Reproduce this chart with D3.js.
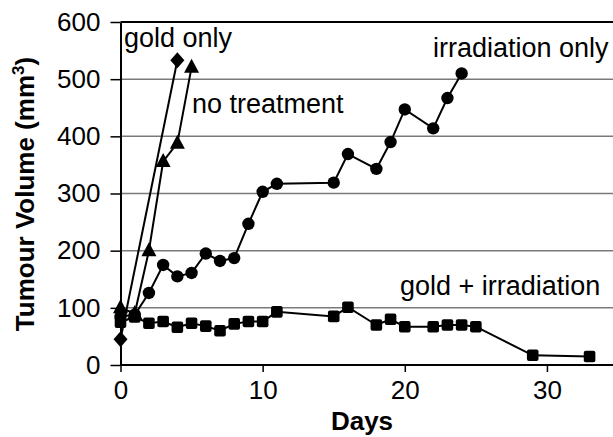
<!DOCTYPE html>
<html><head><meta charset="utf-8">
<script src="https://cdn.jsdelivr.net/npm/d3@7"></script>
<style>
body{margin:0;background:#fff;}
svg{display:block;font-family:"Liberation Sans",Arial,sans-serif;}
</style></head>
<body>
<svg id="chart" width="613" height="437"></svg>
<script>
// Data (days, tumour volume mm^3)
const goldOnlyDays = [0, 4];
const goldOnlyVol = [45, 533];
const noTreatDays = [0, 1, 2, 3, 4, 5];
const noTreatVol = [100, 90, 200, 356, 388, 521];
const irrDays = [0, 1, 2, 3, 4, 5, 6, 7, 8, 9, 10, 11, 15, 16, 18, 19, 20, 22, 23, 24];
const irrVol = [85, 88, 126, 175, 155, 161, 195, 182, 187, 247, 303, 317, 319, 369, 343, 390, 447, 414, 467, 510];
const goldIrrDays = [0, 1, 2, 3, 4, 5, 6, 7, 8, 9, 10, 11, 15, 16, 18, 19, 20, 22, 23, 24, 25, 29, 33];
const goldIrrVol = [75, 84, 73, 76, 66, 73, 68, 60, 72, 76, 76, 93, 85, 101, 70, 80, 67, 67, 70, 70, 67, 17, 15];
const xTicks = [0, 10, 20, 30];
const yTicks = [0, 100, 200, 300, 400, 500, 600];
const labels = ["gold only", "no treatment", "irradiation only", "gold + irradiation"];

const svg = d3.select("#chart");
const x = d3.scaleLinear().domain([0, 35]).range([120.5, 618]);
const y = d3.scaleLinear().domain([0, 600]).range([365, 22]);

// gridlines
svg.append("g").selectAll("line").data(yTicks.filter(v => v > 0 && v < 600)).join("line")
  .attr("x1", x(0)).attr("x2", 613).attr("y1", d => y(d)).attr("y2", d => y(d))
  .attr("stroke", "#7a7a7a").attr("stroke-width", 1.5);
// top border
svg.append("line").attr("x1", x(0)).attr("x2", 613).attr("y1", y(600)).attr("y2", y(600))
  .attr("stroke", "#000").attr("stroke-width", 2);

// axes
const yAxis = svg.append("g").attr("transform", `translate(${x(0)},0)`)
  .call(d3.axisLeft(y).tickValues(yTicks).tickSize(10).tickPadding(10).tickSizeOuter(0));
const xAxis = svg.append("g").attr("transform", `translate(0,${y(0)})`)
  .call(d3.axisBottom(x).tickValues(xTicks).tickSize(7).tickPadding(9).tickSizeOuter(0));
[yAxis, xAxis].forEach(a => {
  a.selectAll("path").attr("stroke", "#000").attr("stroke-width", 2);
  a.selectAll("line").attr("stroke", "#000").attr("stroke-width", 1.5);
  a.selectAll("text").attr("font-size", 26).attr("fill", "#000")
    .attr("font-family", "'Liberation Sans', Arial, sans-serif");
});
xAxis.select(".domain").attr("d", `M${x(0)},0H620`);

// axis titles
svg.append("text").attr("x", 362).attr("y", 430).attr("text-anchor", "middle")
  .attr("font-size", 26).attr("font-weight", "bold").text("Days");
const yt = svg.append("text").attr("transform", "translate(34,194) rotate(-90)")
  .attr("text-anchor", "middle").attr("font-size", 26).attr("font-weight", "bold");
yt.append("tspan").text("Tumour Volume (mm");
yt.append("tspan").attr("font-size", 17).attr("dy", -10).text("3");
yt.append("tspan").attr("dy", 10).text(")");

// series
const line = d3.line().x(d => x(d[0])).y(d => y(d[1]));
const series = [
  {days: goldIrrDays, vol: goldIrrVol, shape: "square"},
  {days: irrDays, vol: irrVol, shape: "circle"},
  {days: noTreatDays, vol: noTreatVol, shape: "triangle"},
  {days: goldOnlyDays, vol: goldOnlyVol, shape: "diamond"}
];
function shapePath(s) {
  if (s === "diamond") return "M0,-8L7,0L0,8L-7,0Z";
  if (s === "triangle") return "M0,-8.5L7.5,5.5L-7.5,5.5Z";
  return null;
}
series.forEach(s => {
  const pts = s.days.map((d, i) => [d, s.vol[i]]);
  svg.append("path").datum(pts).attr("d", line).attr("fill", "none")
    .attr("stroke", "#000").attr("stroke-width", 2);
  const g = svg.append("g");
  if (s.shape === "circle") {
    g.selectAll("circle").data(pts).join("circle")
      .attr("cx", d => x(d[0])).attr("cy", d => y(d[1])).attr("r", 6.2).attr("fill", "#000");
  } else if (s.shape === "square") {
    g.selectAll("rect").data(pts).join("rect")
      .attr("x", d => x(d[0]) - 5.8).attr("y", d => y(d[1]) - 5.8)
      .attr("width", 11.6).attr("height", 11.6).attr("rx", 2).attr("fill", "#000");
  } else {
    g.selectAll("path").data(pts).join("path")
      .attr("transform", d => `translate(${x(d[0])},${y(d[1])})`)
      .attr("d", shapePath(s.shape)).attr("fill", "#000");
  }
});

// annotations
const annX = [124, 192, 433, 400];
const annY = [47, 113, 57, 295];
svg.append("g").selectAll("text").data(labels).join("text")
  .attr("x", (d, i) => annX[i]).attr("y", (d, i) => annY[i])
  .attr("font-size", 27).attr("fill", "#000").text(d => d);
</script>
</body></html>
